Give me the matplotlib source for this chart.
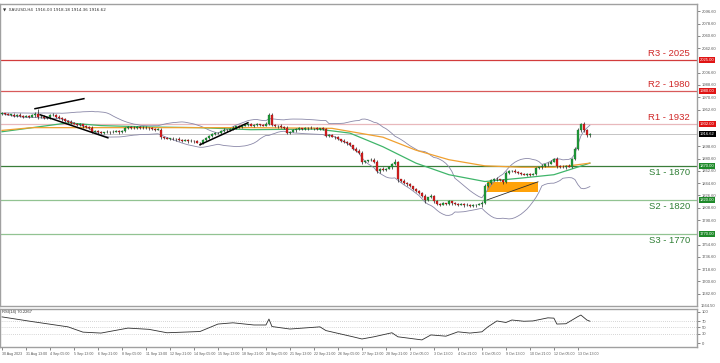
import matplotlib
matplotlib.use('Agg')
import matplotlib.pyplot as plt
import matplotlib.transforms as mtransforms
import numpy as np
import pandas as pd

# H4 closes, one per bar
closes = [
    1947, 1946, 1945, 1945, 1943, 1945, 1943, 1942,
    1943, 1942, 1944, 1946, 1941, 1942, 1940, 1941,
    1944, 1945, 1942, 1940, 1938, 1936, 1935, 1933,
    1932, 1930, 1931, 1928, 1927, 1926, 1920, 1921,
    1919, 1918, 1919, 1920, 1919, 1920, 1921, 1919,
    1921, 1925, 1927, 1926, 1925, 1927, 1926, 1925,
    1926, 1925, 1924, 1923, 1923, 1912, 1911, 1910,
    1910, 1909, 1910, 1908, 1907, 1908, 1906, 1907,
    1906, 1904, 1903, 1908, 1911, 1914, 1916, 1918,
    1918, 1921, 1923, 1922, 1924, 1926, 1928, 1927,
    1929, 1930, 1931, 1929, 1930, 1931, 1930, 1929,
    1932, 1944, 1930, 1928, 1929, 1927, 1926, 1918,
    1920, 1922, 1924, 1925, 1924, 1925, 1926, 1925,
    1925, 1924, 1925, 1924, 1914, 1915, 1913, 1912,
    1909, 1907, 1905, 1903, 1900, 1895, 1892, 1889,
    1875, 1877, 1878, 1879, 1876, 1862, 1866, 1864,
    1866, 1868, 1872, 1875, 1850, 1848, 1845, 1843,
    1840, 1836, 1833, 1830, 1826, 1820, 1824, 1826,
    1818, 1814, 1813, 1815, 1814, 1818, 1815, 1814,
    1813, 1814, 1812, 1813, 1811, 1812, 1813, 1814,
    1816, 1840, 1845, 1849, 1851, 1850, 1849, 1846,
    1860, 1862, 1863, 1861, 1859, 1858, 1857, 1858,
    1857, 1858, 1867, 1868, 1870, 1872, 1873, 1876,
    1880, 1870, 1869, 1868, 1870, 1869, 1880, 1895,
    1922, 1931, 1922, 1915, 1916.62,
]
first_open = 1946.0

up_wick = [
    2, 1, 2, 1, 2, 1, 2, 1,
    2, 1, 2, 3, 7, 2, 2, 1,
    2, 2, 1, 2, 1, 2, 1, 2,
    2, 1, 2, 1, 2, 1, 2, 2,
    1, 2, 1, 2, 1, 2, 2, 1,
    2, 2, 2, 1, 2, 2, 1, 2,
    2, 1, 2, 1, 2, 2, 1, 2,
    1, 2, 1, 2, 1, 2, 1, 2,
    1, 2, 1, 2, 2, 1, 2, 2,
    2, 1, 2, 1, 2, 2, 1, 2,
    1, 2, 1, 2, 1, 2, 1, 2,
    2, 3, 4, 2, 1, 2, 1, 2,
    1, 2, 1, 2, 1, 2, 1, 2,
    1, 2, 1, 2, 2, 1, 2, 1,
    2, 1, 2, 1, 2, 1, 2, 2,
    3, 2, 1, 2, 2, 2, 1, 2,
    1, 2, 2, 5, 2, 1, 2, 1,
    2, 1, 2, 1, 2, 2, 1, 2,
    1, 2, 1, 2, 1, 2, 1, 2,
    1, 2, 1, 2, 1, 2, 1, 2,
    2, 3, 2, 2, 1, 2, 1, 2,
    2, 2, 1, 2, 1, 2, 1, 2,
    1, 2, 2, 1, 2, 1, 2, 2,
    2, 3, 1, 2, 1, 2, 2, 3,
    3, 2, 3, 2, 2,
]
dn_wick = [
    1, 2, 1, 2, 1, 2, 1, 2,
    1, 2, 1, 2, 2, 1, 2, 1,
    2, 1, 2, 1, 2, 1, 2, 1,
    1, 2, 1, 2, 1, 2, 2, 1,
    2, 1, 2, 1, 2, 1, 1, 2,
    1, 2, 1, 2, 1, 1, 2, 1,
    1, 2, 1, 2, 1, 2, 2, 1,
    2, 1, 2, 1, 2, 1, 2, 1,
    2, 1, 2, 1, 1, 2, 1, 1,
    1, 2, 1, 2, 1, 1, 2, 1,
    2, 1, 2, 1, 2, 1, 2, 1,
    1, 2, 2, 1, 2, 1, 2, 2,
    2, 1, 2, 1, 2, 1, 2, 1,
    2, 1, 2, 1, 2, 2, 1, 2,
    1, 2, 1, 2, 1, 2, 1, 2,
    2, 1, 2, 1, 2, 3, 2, 1,
    2, 1, 2, 1, 3, 2, 1, 2,
    1, 2, 1, 2, 2, 5, 2, 1,
    2, 1, 2, 1, 2, 1, 2, 1,
    2, 1, 2, 1, 2, 1, 2, 1,
    4, 2, 1, 2, 1, 2, 1, 2,
    1, 2, 1, 2, 1, 2, 1, 2,
    2, 1, 2, 1, 2, 1, 2, 1,
    1, 3, 2, 1, 2, 1, 2, 1,
    2, 2, 2, 3, 3,
]

# moving averages read at a few bars
green_ma_bars = [0, 22, 33, 49, 66, 83, 105, 116, 127, 138, 149, 161, 173, 184, 189, 196]
green_ma_vals = [1920, 1933, 1929, 1927, 1926, 1923, 1924, 1918, 1898, 1874, 1857, 1847, 1852, 1857, 1864, 1874]
orange_ma_bars = [0, 10, 33, 66, 83, 110, 127, 138, 149, 161, 173, 184, 189, 196]
orange_ma_vals = [1922, 1926, 1926, 1926, 1926, 1925, 1912, 1893, 1879, 1870, 1868, 1868, 1870, 1874]

# RSI(14) read at a few bars
rsi_bars = [0, 10, 22, 27, 33, 42, 49, 55, 66, 72, 77, 84, 88, 89, 90, 96, 106, 108, 117, 120,
            124, 130, 132, 140, 143, 148, 152, 156, 160, 162, 165, 168, 170, 174, 177, 182, 184, 185,
            188, 192, 193, 195, 196]
rsi_vals = [84, 69, 52, 35, 32, 48, 44, 33, 37, 61, 65, 58, 58, 77, 53, 45, 52, 40, 20, 13,
            20, 33, 20, 10, 26, 22, 36, 32, 36, 52, 71, 66, 74, 70, 71, 81, 80, 61,
            62, 85, 90, 74, 70.2]

x_labels = ['30 Aug 2023', '31 Aug 13:00', '4 Sep 05:00', '5 Sep 13:00', '6 Sep 21:00',
            '8 Sep 05:00', '11 Sep 13:00', '12 Sep 21:00', '14 Sep 05:00', '15 Sep 13:00',
            '18 Sep 21:00', '20 Sep 05:00', '21 Sep 13:00', '22 Sep 21:00', '26 Sep 05:00',
            '27 Sep 13:00', '28 Sep 21:00', '2 Oct 05:00', '3 Oct 13:00', '4 Oct 21:00',
            '6 Oct 05:00', '9 Oct 13:00', '10 Oct 21:00', '12 Oct 05:00', '13 Oct 13:00']
label_step = 8

# right scale labels (those hidden behind the level boxes are left out)
price_ticks = [2096.60, 2078.60, 2060.60, 2042.60, 2006.60, 1988.60, 1970.60,
               1952.60, 1898.60, 1880.60, 1862.60, 1844.60, 1826.60,
               1808.60, 1790.60, 1754.60, 1736.60, 1718.60, 1700.60, 1682.60]

res_names = ['R3', 'R2', 'R1']
res_levels = [2025, 1980, 1932]
sup_names = ['S1', 'S2', 'S3']
sup_levels = [1870, 1820, 1770]
last_price = 1916.62

# drawn objects: (bar0, price0, bar1, price1)
trend_lines = [(11, 1953.8, 27.3, 1968.5), (12.7, 1944.9, 35.3, 1911.1), (66, 1900.9, 82, 1933.2)]
thin_line = (161.7, 1820, 178.7, 1846.6)
zone = (161.7, 178.7, 1832, 1846.6)

plt.rcParams['font.family'] = ['Liberation Sans', 'DejaVu Sans']

c = np.array(closes, dtype=float)
o = np.concatenate([[first_open], c[:-1]])
h = np.maximum(o, c) + np.array(up_wick)
l = np.minimum(o, c) - np.array(dn_wick)
idx = np.arange(len(c))

s = pd.Series(c)
mid = s.rolling(20, min_periods=1).mean()
sd = s.rolling(20, min_periods=1).std(ddof=0)
bb_up = mid + 2 * sd
bb_lo = mid - 2 * sd

fig = plt.figure(figsize=(7.2, 3.63), dpi=100)
ax = fig.add_axes([0.0, 0.157, 0.968, 0.832])
axr = fig.add_axes([0.0, 0.044, 0.968, 0.105], sharex=ax)

xmin, xmax = -0.67, 231.7
ax.set_xlim(xmin, xmax)
ax.set_ylim(1664.5, 2107.3)

# levels
res_colors = ['#d23c3c', '#d85a5a', '#e8b8bc']
sup_colors = ['#3a7d3a', '#92c392', '#92c392']
for lv, col in zip(res_levels, res_colors):
    ax.axhline(lv, color=col, lw=0.9, zorder=1)
for lv, col in zip(sup_levels, sup_colors):
    ax.axhline(lv, color=col, lw=0.9, zorder=1)
ax.axhline(last_price, color='#c4c4c4', lw=0.7, zorder=1)

# zone and lines
ax.add_patch(plt.Rectangle((zone[0], zone[2]), zone[1] - zone[0], zone[3] - zone[2],
                           facecolor='#ffa20a', edgecolor='none', zorder=2))
for b0, p0, b1, p1 in trend_lines:
    ax.plot([b0, b1], [p0, p1], color='black', lw=1.1, zorder=5)
ax.plot([thin_line[0], thin_line[2]], [thin_line[1], thin_line[3]], color='#303030', lw=0.6, zorder=5)

# indicators
ax.plot(idx, bb_up, color='#8a88a8', lw=0.6, zorder=3)
ax.plot(idx, bb_lo, color='#8a88a8', lw=0.6, zorder=3)
ax.plot(green_ma_bars, green_ma_vals, color='#3fb56a', lw=0.9, zorder=3)
ax.plot(orange_ma_bars, orange_ma_vals, color='#f0a030', lw=0.9, zorder=3)

# candles
ax.vlines(idx, l, h, color='#202020', lw=0.5, zorder=4)
up = c >= o
body = np.maximum(np.abs(c - o), 0.4)
ax.bar(idx[up], body[up], bottom=o[up], width=0.7, color='#1f9d3a', edgecolor='#145a22', lw=0.2, zorder=4)
ax.bar(idx[~up], body[~up], bottom=c[~up], width=0.7, color='#d81e1e', edgecolor='#7a1010', lw=0.2, zorder=4)

# level captions
tx = 229.3
for name, lv in zip(res_names, res_levels):
    ax.text(tx, lv + 2.5, f'{name} - {lv}', color='#d02828', fontsize=6.8, ha='right', va='bottom', zorder=6)
for name, lv in zip(sup_names, sup_levels):
    ax.text(tx, lv - 2.5, f'{name} - {lv}', color='#2f7f35', fontsize=6.8, ha='right', va='top', zorder=6)

# right price scale
ax.yaxis.tick_right()
ax.set_yticks(price_ticks)
ax.set_yticklabels([f'{p:.2f}' for p in price_ticks])
ax.tick_params(axis='y', labelsize=3.0, length=2, width=0.5, colors='#555555', pad=1.5)
ax.tick_params(axis='x', bottom=False, labelbottom=False)
blend = mtransforms.blended_transform_factory(ax.transAxes, ax.transData)
box_kw = dict(fontsize=3.0, ha='left', va='center', transform=blend, zorder=7, clip_on=False)
for lv in res_levels:
    ax.text(1.004, lv, f'{lv:.2f}', color='white',
            bbox=dict(boxstyle='square,pad=0.25', fc='#e01414', ec='none'), **box_kw)
for lv in sup_levels:
    ax.text(1.004, lv, f'{lv:.2f}', color='white',
            bbox=dict(boxstyle='square,pad=0.25', fc='#1f8a2a', ec='none'), **box_kw)
ax.text(1.004, last_price, f'{last_price:.2f}', color='white',
        bbox=dict(boxstyle='square,pad=0.25', fc='black', ec='none'), **box_kw)
ax.text(1.006, 0.0, '1664.50', transform=ax.transAxes, fontsize=3.0, color='#555555',
        ha='left', va='center', clip_on=False)

ax.text(0.005, 0.988, '\u25bc  XAUUSD,H4  1916.03 1918.18 1914.36 1916.62', transform=ax.transAxes,
        fontsize=3.0, color='#303030', ha='left', va='top', family=['DejaVu Sans'])

for sp in ax.spines.values():
    sp.set_color('#a0a0a0')
    sp.set_linewidth(1.0)

# RSI panel
axr.set_ylim(-12.9, 109.7)
for lv in (70, 50, 30):
    axr.axhline(lv, color='#b0b0b0', lw=0.5, ls=(0, (1, 2)))
axr.plot(rsi_bars, rsi_vals, color='#303030', lw=0.6)
axr.yaxis.tick_right()
axr.set_yticks([0, 30, 50, 70, 100])
axr.tick_params(axis='y', labelsize=3.0, length=2, width=0.5, colors='#555555', pad=1.5)
axr.text(0.003, 0.97, 'RSI(14) 70.2267', transform=axr.transAxes, fontsize=3.0, color='#303030',
         ha='left', va='top')
ticks = [i * label_step for i in range(len(x_labels))]
axr.set_xticks(ticks)
axr.set_xticklabels(x_labels, ha='left')
axr.tick_params(axis='x', labelsize=2.6, length=2, width=0.5, colors='#555555', pad=1.5)
for sp in axr.spines.values():
    sp.set_color('#a0a0a0')
    sp.set_linewidth(1.0)

fig.savefig('out.png', dpi=100, facecolor='white')
